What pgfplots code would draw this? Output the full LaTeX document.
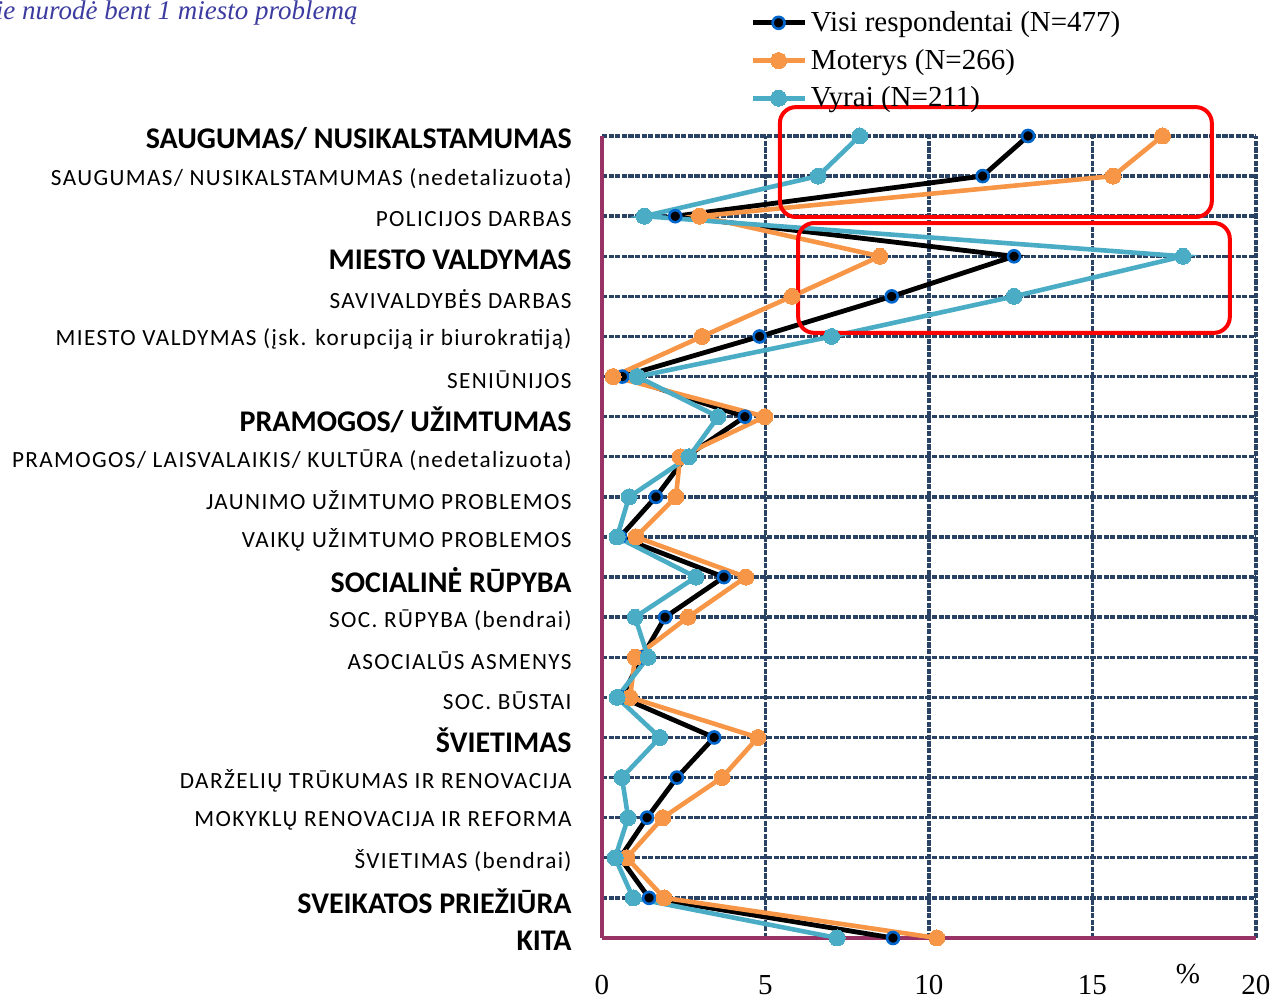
\documentclass[border=0pt]{standalone}
\usepackage{fontspec}
\usepackage{pgfplots}
\pgfplotsset{compat=1.18}
\usetikzlibrary{calc}
\setmainfont{Liberation Serif}
\newfontfamily\catfont[LetterSpace=6]{Carlito}
\newfontfamily\hdfont{Carlito}
\definecolor{navy}{HTML}{2A4365}
\definecolor{axmaroon}{HTML}{993366}
\definecolor{cOrange}{HTML}{F79646}
\definecolor{cTeal}{HTML}{4BACC6}
\definecolor{cBlue}{HTML}{0066CC}
\definecolor{ttl}{HTML}{3C3CA0}
\newcommand{\hd}[1]{{\hdfont\fontsize{15}{17}\selectfont\bfseries #1}}
\newcommand{\sbl}[1]{{\catfont\fontsize{11.6}{13}\selectfont #1}}
\begin{document}
\begin{tikzpicture}
\begin{axis}[
  width=327pt, height=401pt, scale only axis,
  xmin=0, xmax=20, ymin=0, ymax=20,
  clip=false,
  axis x line*=bottom, axis y line*=left,
  axis line style={-, draw=axmaroon, line width=1.6pt},
  xtick={5,10,15,20},
  extra x ticks={0},
  extra x tick style={grid=none},
  ytick={1,2,...,20},
  extra y ticks={0},
  extra y tick labels={{\hd{KITA}}},
  extra y tick style={grid=none},
  major tick length=0pt,
  xmajorgrids, ymajorgrids,
  major grid style={draw=navy, line width=1.7pt, dash pattern=on 2.6pt off 0.7pt},
  /pgf/number format/assume math mode=true,
  xticklabel style={font=\fontsize{14.5}{16}\selectfont, yshift=-15pt},
  yticklabel style={anchor=east, inner sep=0pt, xshift=-15pt, yshift=-1.5pt},
  yticklabels={
    {\hd{SVEIKATOS PRIEŽIŪRA}},
    {\sbl{ŠVIETIMAS (bendrai)}},
    {\sbl{MOKYKLŲ RENOVACIJA IR REFORMA}},
    {\sbl{DARŽELIŲ TRŪKUMAS IR RENOVACIJA}},
    {\hd{ŠVIETIMAS}},
    {\sbl{SOC. BŪSTAI}},
    {\sbl{ASOCIALŪS ASMENYS}},
    {\sbl{SOC. RŪPYBA (bendrai)}},
    {\hd{SOCIALINĖ RŪPYBA}},
    {\sbl{VAIKŲ UŽIMTUMO PROBLEMOS}},
    {\sbl{JAUNIMO UŽIMTUMO PROBLEMOS}},
    {\sbl{PRAMOGOS/ LAISVALAIKIS/ KULTŪRA (nedetalizuota)}},
    {\hd{PRAMOGOS/ UŽIMTUMAS}},
    {\sbl{SENIŪNIJOS}},
    {\sbl{MIESTO VALDYMAS (įsk. korupciją ir biurokratiją)}},
    {\sbl{SAVIVALDYBĖS DARBAS}},
    {\hd{MIESTO VALDYMAS}},
    {\sbl{POLICIJOS DARBAS}},
    {\sbl{SAUGUMAS/ NUSIKALSTAMUMAS (nedetalizuota)}},
    {\hd{SAUGUMAS/ NUSIKALSTAMUMAS}}
  },
  xlabel={\%},
  x label style={at={(axis description cs:0.896,-0.045)}, anchor=center, font=\fontsize{14.5}{16}\selectfont},
  legend style={at={(axis description cs:0.226,1.161)}, anchor=north west, draw=none, fill=none,
    font=\fontsize{14.5}{16}\selectfont, row sep=3.3pt, inner sep=0pt,
    /tikz/every even column/.append style={column sep=4pt}},
  legend cell align=left,
  legend image code/.code={\draw[mark repeat=2,mark phase=2] plot coordinates {(0pt,0pt) (13pt,0pt) (26pt,0pt)};},
]
\addplot[black, line width=2.4pt, mark=*, mark size=3pt, mark options={fill=black, draw=cBlue, line width=1.3pt}] coordinates {
(13.03,20) (11.64,19) (2.24,18) (12.6,17) (8.86,16) (4.82,15) (0.62,14) (4.37,13) (2.57,12) (1.65,11) (0.55,10)
(3.73,9) (1.93,8) (1.22,7) (0.6,6) (3.43,5) (2.29,4) (1.38,3) (0.55,2) (1.44,1) (8.90,0)};
\addlegendentry{Visi respondentai (N=477)}
\addplot[cOrange, line width=2.3pt, mark=*, mark size=4pt, mark options={fill=cOrange, draw=cOrange, line width=0pt}] coordinates {
(17.14,20) (15.63,19) (2.98,18) (8.5,17) (5.81,16) (3.06,15) (0.34,14) (4.98,13) (2.39,12) (2.26,11) (1.04,10)
(4.40,9) (2.63,8) (1.01,7) (0.86,6) (4.77,5) (3.67,4) (1.86,3) (0.76,2) (1.90,1) (10.24,0)};
\addlegendentry{Moterys (N=266)}
\addplot[cTeal, line width=2.3pt, mark=*, mark size=4pt, mark options={fill=cTeal, draw=cTeal, line width=0pt}] coordinates {
(7.88,20) (6.61,19) (1.29,18) (17.77,17) (12.6,16) (7.02,15) (1.08,14) (3.55,13) (2.66,12) (0.83,11) (0.46,10)
(2.87,9) (1.01,8) (1.41,7) (0.46,6) (1.77,5) (0.61,4) (0.80,3) (0.40,2) (0.95,1) (7.19,0)};
\addlegendentry{Vyrai (N=211)}
\draw[red, line width=2pt, rounded corners=8pt] (axis cs:5.44,20.72) rectangle (axis cs:18.65,17.98);
\draw[red, line width=2pt, rounded corners=8pt] (axis cs:6.0,17.83) rectangle (axis cs:19.2,15.09);
\end{axis}
\node[anchor=base east, text=ttl, font=\itshape\fontsize{13.5}{16}\selectfont, inner sep=0pt]
  at ($(current axis.north west)+(-122pt,58pt)$) {Respondentai, kurie nurodė bent 1 miesto problemą};
\pgfresetboundingbox
\path[use as bounding box] ($(current axis.south west)+(-301pt,-30.5pt)$) rectangle ($(current axis.north east)+(9.5pt,68pt)$);
\end{tikzpicture}
\end{document}
